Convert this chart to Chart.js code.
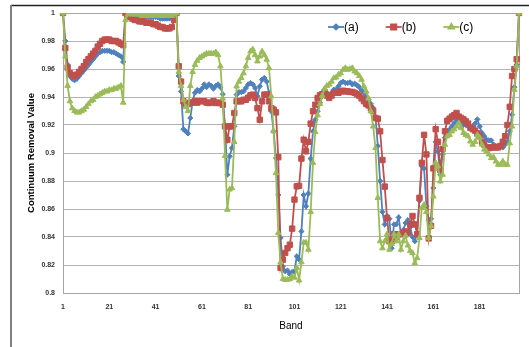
<!DOCTYPE html>
<html>
<head>
<meta charset="utf-8">
<script src="https://cdn.jsdelivr.net/npm/chart.js@4.4.1/dist/chart.umd.min.js"></script>
<style>
  html, body { margin: 0; padding: 0; background: #fff; }
  canvas { display: block; }
</style>
</head>
<body>
<canvas id="crChart" width="529" height="347"></canvas>
<script>
// band numbers 1..198 and the labelled ones
const bands = Array.from({ length: 198 }, (_, i) => i + 1);
const bandTicks = [1, 21, 41, 61, 81, 101, 121, 141, 161, 181];
const seriesNames = ['(a)', '(b)', '(c)'];

const seriesA = [
  1.000, 0.980, 0.963, 0.955, 0.953, 0.952, 0.953, 0.955, 0.957, 0.959,
  0.961, 0.963, 0.965, 0.967, 0.969, 0.971, 0.972, 0.973, 0.973, 0.973,
  0.973, 0.972, 0.972, 0.971, 0.970, 0.969, 0.965, 0.999, 1.000, 0.999,
  0.999, 0.999, 0.998, 0.998, 0.998, 0.998, 0.998, 0.997, 0.997, 0.997,
  0.997, 0.997, 0.996, 0.996, 0.996, 0.996, 0.996, 0.997, 0.997, 1.000,
  0.955, 0.944, 0.917, 0.9155, 0.914, 0.925, 0.937, 0.943, 0.945, 0.944,
  0.946, 0.949, 0.947, 0.949, 0.948, 0.946, 0.948, 0.949, 0.947, 0.942,
  0.918, 0.8845, 0.8976, 0.9036, 0.919, 0.9417, 0.9435, 0.9435, 0.944, 0.9464,
  0.949, 0.950, 0.949, 0.9464, 0.9405, 0.9476, 0.9524, 0.9536, 0.951, 0.943,
  0.9298, 0.9155, 0.8964, 0.870, 0.8393, 0.819, 0.8155, 0.816, 0.8135, 0.815,
  0.8155, 0.8262, 0.824, 0.844, 0.870, 0.862, 0.871, 0.896, 0.9155, 0.9238,
  0.9298, 0.9357, 0.9405, 0.943, 0.943, 0.9405, 0.943, 0.9452, 0.9452, 0.9476,
  0.950, 0.951, 0.950, 0.950, 0.9505, 0.949, 0.9495, 0.9485, 0.947, 0.945,
  0.943, 0.940, 0.937, 0.935, 0.932, 0.926, 0.905, 0.880, 0.858, 0.849,
  0.855, 0.853, 0.832, 0.849, 0.849, 0.854, 0.842, 0.845, 0.850, 0.852,
  0.847, 0.840, 0.837, 0.843, 0.866, 0.8905, 0.889, 0.862, 0.852, 0.853,
  0.875, 0.908, 0.901, 0.8845, 0.899, 0.911, 0.913, 0.9167, 0.919, 0.9214,
  0.924, 0.923, 0.921, 0.920, 0.920, 0.919, 0.918, 0.919, 0.921, 0.924,
  0.919, 0.9143, 0.912, 0.9095, 0.909, 0.909, 0.906, 0.905, 0.905, 0.905,
  0.904, 0.906, 0.908, 0.9155, 0.9274, 0.947, 0.963, 1.000
];

const seriesB = [
  1.000, 0.975, 0.961, 0.957, 0.9555, 0.955, 0.956, 0.958, 0.960, 0.962,
  0.965, 0.967, 0.969, 0.971, 0.973, 0.976, 0.978, 0.980, 0.981, 0.981,
  0.981, 0.980, 0.980, 0.980, 0.979, 0.978, 0.977, 1.000, 0.999, 0.997,
  0.996, 0.995, 0.995, 0.994, 0.994, 0.994, 0.993, 0.993, 0.993, 0.992,
  0.992, 0.991, 0.990, 0.990, 0.989, 0.989, 0.989, 0.990, 0.995, 1.000,
  0.962, 0.951, 0.937, 0.935, 0.935, 0.936, 0.936, 0.937, 0.936, 0.937,
  0.937, 0.937, 0.936, 0.9357, 0.936, 0.937, 0.9357, 0.936, 0.9357, 0.9345,
  0.919, 0.9095, 0.919, 0.919, 0.9286, 0.9369, 0.937, 0.9369, 0.938, 0.938,
  0.9395, 0.9412, 0.9417, 0.9393, 0.932, 0.9238, 0.9369, 0.9417, 0.9417, 0.9369,
  0.932, 0.931, 0.929, 0.897, 0.818, 0.8238, 0.8286, 0.832, 0.8345, 0.846,
  0.8667, 0.8762, 0.8765, 0.896, 0.9095, 0.9012, 0.908, 0.921, 0.9298, 0.9345,
  0.9393, 0.9412, 0.942, 0.9436, 0.941, 0.9393, 0.941, 0.943, 0.943, 0.943,
  0.944, 0.9445, 0.944, 0.944, 0.9436, 0.9436, 0.943, 0.942, 0.941, 0.939,
  0.937, 0.935, 0.934, 0.932, 0.930, 0.925, 0.9245, 0.9155, 0.895, 0.876,
  0.8536, 0.837, 0.837, 0.842, 0.840, 0.842, 0.842, 0.843, 0.844, 0.843,
  0.849, 0.855, 0.849, 0.842, 0.868, 0.893, 0.913, 0.899, 0.839, 0.848,
  0.889, 0.917, 0.908, 0.888, 0.903, 0.9155, 0.923, 0.9245, 0.926, 0.927,
  0.9286, 0.926, 0.925, 0.924, 0.9226, 0.921, 0.918, 0.917, 0.916, 0.914,
  0.912, 0.908, 0.906, 0.904, 0.9035, 0.904, 0.904, 0.904, 0.904, 0.905,
  0.908, 0.912, 0.920, 0.933, 0.955, 0.960, 0.967, 1.000
];

const seriesC = [
  1.000, 0.969, 0.948, 0.937, 0.932, 0.930, 0.929, 0.929, 0.930, 0.931,
  0.933, 0.935, 0.937, 0.938, 0.940, 0.941, 0.942, 0.943, 0.944, 0.944,
  0.945, 0.945, 0.946, 0.946, 0.947, 0.948, 0.936, 0.995, 0.999, 1.000,
  0.999, 0.999, 0.999, 0.999, 0.998, 0.999, 0.998, 0.998, 0.998, 0.998,
  0.998, 0.998, 0.998, 0.998, 0.998, 0.999, 0.998, 0.998, 0.999, 1.000,
  0.958, 0.948, 0.938, 0.933, 0.930, 0.948, 0.958, 0.963, 0.966, 0.968,
  0.969, 0.970, 0.971, 0.971, 0.971, 0.971, 0.972, 0.970, 0.962, 0.939,
  0.898, 0.8595, 0.874, 0.875, 0.908, 0.9476, 0.951, 0.9536, 0.957, 0.962,
  0.968, 0.9726, 0.974, 0.970, 0.9655, 0.969, 0.9726, 0.970, 0.9667, 0.9607,
  0.9405, 0.9155, 0.8857, 0.8429, 0.822, 0.810, 0.8095, 0.8095, 0.810, 0.812,
  0.811, 0.818, 0.809, 0.822, 0.836, 0.836, 0.831, 0.858, 0.893, 0.915,
  0.927, 0.935, 0.941, 0.946, 0.948, 0.949, 0.951, 0.9535, 0.954, 0.956,
  0.957, 0.9595, 0.9607, 0.9595, 0.960, 0.9607, 0.9583, 0.957, 0.955, 0.9524,
  0.9476, 0.944, 0.939, 0.9298, 0.919, 0.9036, 0.868, 0.837, 0.832, 0.837,
  0.842, 0.831, 0.835, 0.842, 0.837, 0.842, 0.831, 0.837, 0.841, 0.834,
  0.830, 0.8286, 0.8214, 0.825, 0.8393, 0.8607, 0.863, 0.858, 0.8393, 0.848,
  0.869, 0.893, 0.8905, 0.8798, 0.8845, 0.906, 0.912, 0.913, 0.9155, 0.917,
  0.919, 0.9214, 0.918, 0.9143, 0.913, 0.912, 0.9083, 0.906, 0.908, 0.913,
  0.911, 0.906, 0.9025, 0.901, 0.899, 0.8964, 0.897, 0.894, 0.8917, 0.8917,
  0.894, 0.8917, 0.8917, 0.907, 0.919, 0.9452, 0.962, 1.000
];

const blue = '#4F81BD';
const red = '#C0504D';
const green = '#9BBB59';

const legendInPlot = {
    id: 'legendInPlot',
    beforeDraw(chart) {
        const c = chart.ctx;
        c.save();
        c.fillStyle = '#fff';
        c.fillRect(0, 0, chart.width, chart.height);
        // outer frame
        c.strokeStyle = '#222';
        c.lineWidth = 1.5;
        c.beginPath();
        c.moveTo(11, 5.5);
        c.lineTo(chart.width, 5.5);
        c.stroke();
        c.strokeStyle = '#7f7f7f';
        c.lineWidth = 2;
        c.beginPath();
        c.moveTo(11, 5);
        c.lineTo(11, chart.height);
        c.stroke();
        c.restore();
    },
    beforeDatasetsDraw(chart) {
        const a = chart.chartArea;
        const c = chart.ctx;
        c.save();
        c.strokeStyle = '#a6a6a6';
        c.lineWidth = 1;
        c.strokeRect(Math.round(a.left) + 0.5, Math.round(a.top) + 0.5,
            Math.round(a.right - a.left), Math.round(a.bottom - a.top));
        c.restore();
    },
    afterDraw(chart) {
        const a = chart.chartArea;
        const c = chart.ctx;
        c.save();
        c.font = '12px "Liberation Sans", Arial, sans-serif';
        c.textBaseline = 'middle';
        const y = a.top + 14;
        let x = a.left + 265;
        chart.data.datasets.forEach(ds => {
            c.strokeStyle = ds.borderColor;
            c.lineWidth = 1.8;
            c.beginPath();
            c.moveTo(x, y);
            c.lineTo(x + 16, y);
            c.stroke();
            Chart.helpers.drawPoint(c, {
                pointStyle: ds.pointStyle,
                radius: ds.pointRadius,
                borderWidth: 1
            }, x + 8, y);
            c.fillStyle = ds.pointBackgroundColor;
            c.strokeStyle = ds.borderColor;
            c.fill();
            c.fillStyle = '#000';
            c.fillText(ds.label, x + 16, y + 0.5);
            x += 16 + c.measureText(ds.label).width + 27;
        });
        c.restore();
    }
};

function serie(label, data, color, style, r, order) {
    return {
        label: label,
        data: data,
        borderColor: color,
        backgroundColor: color,
        pointBackgroundColor: color,
        pointBorderColor: color,
        borderWidth: 1.8,
        pointStyle: style,
        pointRadius: r,
        pointBorderWidth: 1,
        tension: 0,
        order: order
    };
}

new Chart(document.getElementById('crChart').getContext('2d'), {
    type: 'line',
    data: {
        labels: bands,
        datasets: [
            serie(seriesNames[0], seriesA, blue, 'rectRot', 2.6, 3),
            serie(seriesNames[1], seriesB, red, 'rect', 3.8, 2),
            serie(seriesNames[2], seriesC, green, 'triangle', 3.2, 1)
        ]
    },
    options: {
        responsive: false,
        animation: false,
        devicePixelRatio: 1,
        layout: { padding: { left: 12, top: 13, right: 6, bottom: 0 } },
        plugins: {
            legend: { display: false },
            tooltip: { enabled: false }
        },
        scales: {
            x: {
                type: 'category',
                offset: false,
                grid: { display: false, drawTicks: false },
                border: { display: false },
                ticks: {
                    autoSkip: false,
                    maxRotation: 0,
                    minRotation: 0,
                    padding: 10,
                    color: '#333',
                    font: { family: '"Liberation Sans", Arial, sans-serif', size: 7, weight: 'bold' },
                    callback: function (val, idx) {
                        return bandTicks.includes(bands[idx]) ? String(bands[idx]) : '';
                    }
                },
                title: {
                    display: true,
                    text: 'Band',
                    color: '#000',
                    font: { family: '"Liberation Sans", Arial, sans-serif', size: 10 },
                    padding: { top: 0, bottom: 15 }
                },
                afterFit: s => { s.height = 54; }
            },
            y: {
                min: 0.8,
                max: 1.0,
                grid: { color: '#b3b3b3', lineWidth: 1, drawTicks: false },
                border: { display: false },
                ticks: {
                    stepSize: 0.02,
                    padding: 8,
                    color: '#333',
                    font: { family: '"Liberation Sans", Arial, sans-serif', size: 7, weight: 'bold' },
                    callback: v => String(Number(v.toFixed(2)))
                },
                title: {
                    display: true,
                    text: 'Continuum Removal Value',
                    color: '#000',
                    font: { family: '"Liberation Sans", Arial, sans-serif', size: 9.5, weight: 'bold' },
                    padding: { top: 14, bottom: 0 }
                },
                afterFit: s => { s.width = 51; }
            }
        }
    },
    plugins: [legendInPlot]
});
</script>
</body>
</html>
